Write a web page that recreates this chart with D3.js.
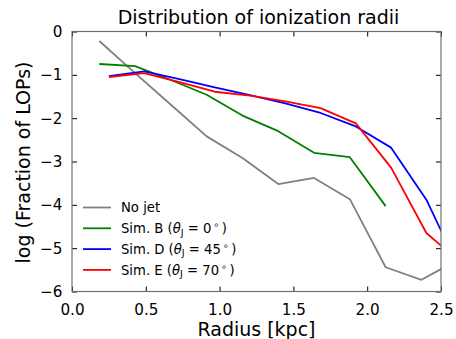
<!DOCTYPE html>
<html>
<head>
<meta charset="utf-8">
<script src="https://cdn.jsdelivr.net/npm/d3@7"></script>
<style>
  body { margin: 0; background: #fff; }
  svg { font-family: "DejaVu Sans", sans-serif; }
</style>
</head>
<body>
<svg id="chart" width="456" height="339"></svg>
<script>
// bins for the no-jet / sim B runs and for sims D / E
const radiusA = [0.185, 0.4275, 0.67, 0.9125, 1.155, 1.3975, 1.64, 1.8825, 2.125, 2.3675, 2.61];
const radiusB = [0.25, 0.489, 0.728, 0.967, 1.206, 1.445, 1.684, 1.923, 2.162, 2.401, 2.64];

const noJet = [-0.22, -0.96, -1.69, -2.42, -2.92, -3.52, -3.38, -3.87, -5.44, -5.73, -5.28];
const simB = [-0.75, -0.80, -1.12, -1.46, -1.94, -2.30, -2.80, -2.90, -4.03];
const simD = [-1.03, -0.92, -1.10, -1.29, -1.47, -1.66, -1.88, -2.19, -2.68, -3.88, -5.60];
const simE = [-1.05, -0.96, -1.17, -1.39, -1.48, -1.61, -1.77, -2.12, -3.14, -4.65, -5.35];

const xTicks = [0.0, 0.5, 1.0, 1.5, 2.0, 2.5];
const yTicks = [0, -1, -2, -3, -4, -5, -6];

const series = [
  { name: 'No jet', xs: radiusA, ys: noJet, color: '#808080' },
  { name: 'Sim. B', angle: '0', xs: radiusA, ys: simB, color: '#008000' },
  { name: 'Sim. D', angle: '45', xs: radiusB, ys: simD, color: '#0000ff' },
  { name: 'Sim. E', angle: '70', xs: radiusB, ys: simE, color: '#ff0000' }
];

const svg = d3.select('#chart');
const plotL = 72, plotR = 441, plotT = 31.5, plotB = 291.5;

const x = d3.scaleLinear().domain([0, 2.5]).range([plotL, plotR]);
const y = d3.scaleLinear().domain([-6, 0]).range([plotB, plotT]);
const fmtMinus = (d) => (d < 0 ? '\u2212' + Math.abs(d) : String(d));

svg.append('clipPath').attr('id', 'plot-clip')
  .append('rect')
  .attr('x', plotL).attr('y', plotT)
  .attr('width', plotR - plotL).attr('height', plotB - plotT);

const plot = svg.append('g').attr('clip-path', 'url(#plot-clip)');
const line = d3.line().x((d) => x(d[0])).y((d) => y(d[1]));

series.forEach((s) => {
  const pts = s.ys.map((v, i) => [s.xs[i], v]);
  plot.append('path')
    .datum(pts)
    .attr('d', line)
    .attr('fill', 'none')
    .attr('stroke', s.color)
    .attr('stroke-width', 1.8)
    .attr('stroke-linejoin', 'round');
});

// axes with inward ticks on all four sides
const tickLen = -5;
const xb = svg.append('g').attr('transform', `translate(0,${plotB})`)
  .call(d3.axisBottom(x).tickValues(xTicks).tickSizeInner(tickLen).tickSizeOuter(0).tickPadding(13).tickFormat(d3.format('.1f')));
const xt = svg.append('g').attr('transform', `translate(0,${plotT})`)
  .call(d3.axisTop(x).tickValues(xTicks).tickSizeInner(tickLen).tickSizeOuter(0).tickFormat(''));
const yl = svg.append('g').attr('transform', `translate(${plotL},0)`)
  .call(d3.axisLeft(y).tickValues(yTicks).tickSizeInner(tickLen).tickSizeOuter(0).tickPadding(9.5).tickFormat(fmtMinus));
const yr = svg.append('g').attr('transform', `translate(${plotR},0)`)
  .call(d3.axisRight(y).tickValues(yTicks).tickSizeInner(tickLen).tickSizeOuter(0).tickFormat(''));

[xb, xt, yl, yr].forEach((g) => {
  g.select('.domain').remove();
  g.selectAll('line').attr('stroke', '#000').attr('stroke-width', 1);
  g.selectAll('text').attr('font-size', 15.2).attr('fill', '#000').attr('font-family', '"DejaVu Sans", sans-serif');
});

svg.append('rect')
  .attr('x', plotL).attr('y', plotT)
  .attr('width', plotR - plotL).attr('height', plotB - plotT)
  .attr('fill', 'none').attr('stroke', '#707070').attr('stroke-width', 1.2);

// titles
svg.append('text')
  .attr('x', (plotL + plotR) / 2 + 2).attr('y', 24)
  .attr('text-anchor', 'middle').attr('font-size', 19)
  .text('Distribution of ionization radii');

svg.append('text')
  .attr('x', (plotL + plotR) / 2).attr('y', 336)
  .attr('text-anchor', 'middle').attr('font-size', 19)
  .text('Radius [kpc]');

svg.append('text')
  .attr('transform', `translate(29.5,${(plotT + plotB) / 2 + 1}) rotate(-90)`)
  .attr('text-anchor', 'middle').attr('font-size', 19)
  .text('log (Fraction of LOPs)');

// legend
const legend = svg.append('g');
series.forEach((s, i) => {
  const ly = 207.5 + i * 20.8;
  legend.append('line')
    .attr('x1', 83).attr('x2', 111).attr('y1', ly).attr('y2', ly)
    .attr('stroke', s.color).attr('stroke-width', 1.8);
  const t = legend.append('text')
    .attr('x', 121).attr('y', ly + 4.8).attr('font-size', 13.2);
  if (!s.angle) {
    t.text(s.name);
  } else {
    t.append('tspan').text(s.name + ' (');
    t.append('tspan').attr('font-style', 'italic').text('\u03b8');
    t.append('tspan').attr('font-size', 9.5).attr('dy', 2.5).text('J');
    t.append('tspan').attr('dy', -2.5).text(' = ' + s.angle);
    t.append('tspan').attr('font-size', 9.5).attr('dy', -5).text('\u2009\u2218');
    t.append('tspan').attr('dy', 5).text('\u2009)');
  }
});
</script>
</body>
</html>
